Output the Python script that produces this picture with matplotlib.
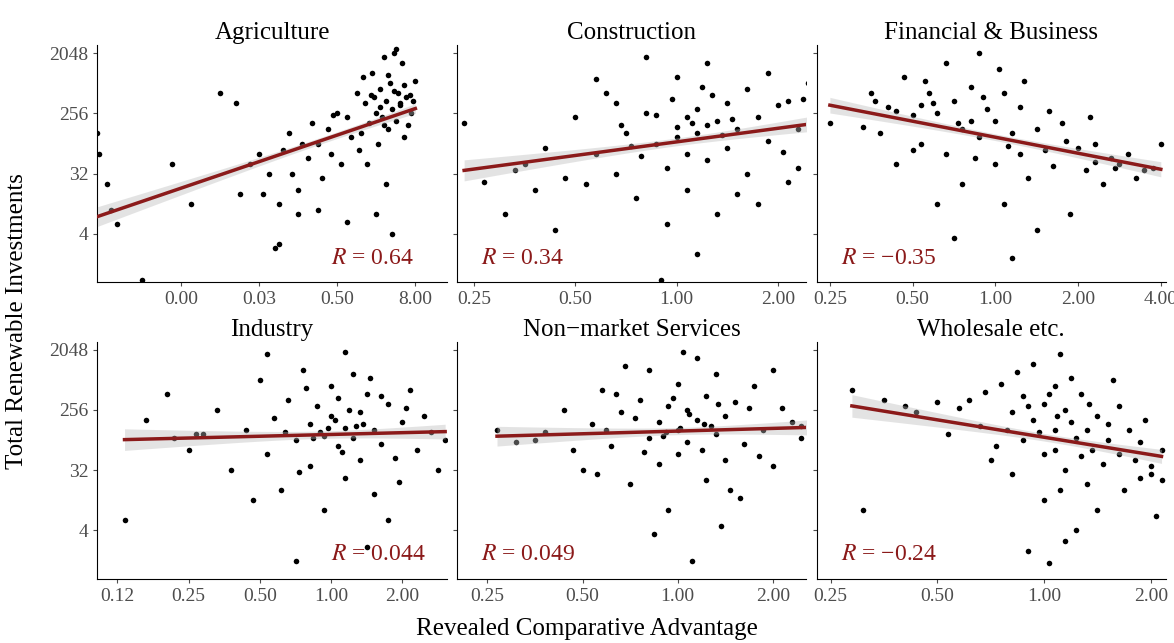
import numpy as np
import matplotlib
matplotlib.use("Agg")
import matplotlib.pyplot as plt

plt.rcParams['font.family'] = ['Liberation Serif', 'DejaVu Serif']
plt.rcParams['mathtext.fontset'] = 'stix'

sectors = ["Agriculture", "Construction", "Financial & Business",
           "Industry", "Non\u2212market Services", "Wholesale etc."]
r_labels = ["0.64", "0.34", "\u22120.35", "0.044", "0.049", "\u22120.24"]
# points as (log2 RCA, log2 investments)
agri = [(-13.3,7),(-13.2,6),(-12.8,4.5),(-12.6,3.2),(-12.3,2.5),(-11,-0.3),(-9.5,5.5),(-8.5,3.5),(-7,9),(-6.2,8.5),(-6,4),(-5.5,5.5),
        (-5,6),(-4.8,4),(-4.5,5),(-4.2,1.3),(-4,3.5),(-3.8,6.2),(-3.5,7),(-3.3,5),(-3,4.2),(-2.8,6.5),
        (-2.5,5.8),(-2.3,7.5),(-2,6.5),(-1.8,4.8),(-1.5,7.2),(-1.3,6),(-1,8),(-0.8,5.5),(-0.5,7.8),(-0.3,6.8),
        (0,9),(0.2,7),(0.4,8.5),(0.6,7.5),(0.8,10),(1,8),(1.1,6.5),(1.2,9.2),(1.3,7.8),(1.4,10.8),
        (1.5,8.6),(1.6,7.2),(1.7,9.5),(1.8,8.2),(1.9,11),(2,7.6),(2.1,9),(2.2,8.4),(2.3,10.5),(2.4,6.8),
        (2.5,8.8),(2.6,7.4),(2.8,8),(3,9.6),(0.5,5.5),(1,3),(1.5,4.5),(2,11.2),(0.3,9.8),(-0.5,2.6),
        (1.8,2),(2.2,8.5),(-3,3),(-4,1.5),(-2,3.2),(0.9,8.8),(1.6,9.9),(2.7,8.9),(-1.2,7.9),(0.1,6.2),
        (1.2,8.3),(1.9,9.1),(2.4,9.4),(0.7,8.9),(1.4,7.4),(2.9,8.6)]
cons = [(-2.1,7.5),(-1.7,3),(-1.5,5.5),(-1.3,6.3),(-1.2,2.2),(-1,7.8),(-0.9,4.5),(-0.8,6),(-0.7,9),(-0.6,5),
        (-0.5,7),(-0.4,3.8),(-0.3,8),(-0.2,6.5),(-0.1,5.3),(0,7.3),(0,9.8),(0.1,6),(0.1,4.2),(0.2,8.2),
        (0.2,7),(0.3,5.7),(0.3,10.5),(0.4,7.6),(0.4,3),(0.5,8.5),(0.5,6.3),(0.6,7.2),(0.7,9.2),(0.7,5),
        (0.8,7.8),(0.9,6.6),(1,8.4),(1.1,4.6),(1.2,7.2),(1.3,9.5),(-0.3,10.8),(-0.1,2.5),(0.2,1),(-0.6,8.5),
        (-0.2,7.9),(0,6.8),(0.15,7.5),(0.35,8.9),(-0.45,6.4),(-1.1,4.8),(0.6,4),(0.9,10),(-0.8,9.7),(1.05,6.1),
        (-0.05,8.7),(0.25,9.3),(0.45,6.9),(-0.35,5.9),(-1.4,4.2),(0.8,3.5),(1.2,5.3),(-0.15,-0.3),(0.55,7.7),(-0.55,7.4),
        (-1.9,4.6),(-1.6,5.2),(1.1,8.6),(1.25,8.7),(0.1,7.8),(0.3,7.4)]
fin = [(-2,7.5),(-1.5,9),(-1.4,7),(-1.3,8.3),(-1.2,5.5),(-1.1,9.8),(-1,7.9),(-0.9,6.5),(-0.8,9),(-0.7,8),
       (-0.6,10.5),(-0.6,6),(-0.5,8.6),(-0.4,7.2),(-0.4,4.5),(-0.3,9.3),(-0.3,7.6),(-0.2,11),(-0.2,6.8),(-0.1,8.2),
       (0,5.5),(0,7.6),(0.1,9),(0.1,3.5),(0.2,7),(0.3,6),(0.3,8.3),(0.4,4.8),(0.5,7.2),(0.6,6.2),
       (0.7,5.4),(0.8,7.5),(0.9,3),(1,6.3),(1.1,5.2),(1.2,6.5),(1.3,4.5),(1.4,5.8),(1.5,5.5),(1.7,4.8),
       (1.9,5.3),(2,6.5),(-0.7,3.5),(-0.5,1.8),(0.2,0.8),(0.5,2.2),(-1,6.2),(-0.15,8.8),(0.05,10.2),(-0.85,9.6),
       (0.35,9.6),(0.65,8.1),(-1.6,7.3),(-0.25,5.8),(0.85,6.6),(1.15,7.8),(-0.45,7.5),(0.15,6.4),(-0.75,8.5),(1.6,6),
       (-1.45,8.6),(-1.2,8.1),(-0.9,8.4),(1.2,5.6),(1.45,5.3),(1.8,5.2)]
ind = [(-2.9,2.5),(-2.6,7.5),(-2.3,8.8),(-2,6),(-1.6,8),(-1.4,5),(-1.2,7),(-1,9.5),(-0.9,5.8),(-0.8,7.6),
       (-0.7,4),(-0.6,8.5),(-0.5,6.5),(-0.4,10),(-0.3,7.3),(-0.3,5.2),(-0.2,8.2),(-0.1,6.7),(-0.1,3),(0,7.7),
       (0,9.2),(0.1,6.2),(0.1,8.6),(0.2,7.1),(0.2,4.6),(0.3,9.8),(0.3,6.6),(0.4,7.9),(0.4,5.5),(0.5,8.8),
       (0.6,7),(0.6,3.8),(0.7,6.3),(0.8,8.3),(0.9,5.6),(1,7.4),(1.1,9),(1.2,6),(1.3,7.7),(1.5,5),
       (-0.5,0.5),(0.5,1.2),(-0.9,10.8),(0.2,10.9),(-1.1,3.5),(0.8,2.5),(1.6,6.5),(-0.15,6.9),(0.05,7.5),(0.45,7.3),
       (-0.65,6.9),(0.7,8.7),(-0.35,9.1),(0.95,4.4),(-1.8,6.8),(0.15,5.9),(0.55,9.6),(-0.45,4.9),(1.05,8.1),(0.25,8),
       (-2.2,6.6),(-1.9,6.8),(1.4,6.9),(-0.05,7.1),(0.35,7.2),(-0.25,6.6)]
nonm = [(-1.9,7),(-1.5,6.5),(-1.2,8),(-1,5),(-0.9,7.3),(-0.8,9),(-0.7,6.2),(-0.6,7.9),(-0.5,4.3),(-0.4,8.5),
        (-0.3,6.6),(-0.3,10),(-0.2,7.4),(-0.2,5.3),(-0.1,8.2),(-0.1,3),(0,7),(0,9.3),(0,5.8),(0.1,8),
        (0.1,6.4),(0.2,10.6),(0.2,7.5),(0.3,4.5),(0.3,8.7),(0.4,6.8),(0.4,9.8),(0.5,7.7),(0.5,5.5),(0.6,8.4),
        (0.7,6.3),(0.8,9.2),(0.9,7),(1,5.2),(1.1,8.1),(1.3,6.6),(1.4,8.8),(-0.25,1.8),(0.15,0.5),(0.45,2.2),
        (-0.55,10.2),(0.05,10.9),(0.65,3.6),(-0.85,4.8),(0.25,6),(-0.15,6.7),(0.35,7.2),(-0.45,7.6),(0.75,8.1),(1,10),
        (-0.65,8.8),(0.55,4),(-0.05,8.6),(0.85,5.7),(-1.1,6),(1.2,7.4),(0.12,7.8),(-0.35,5.9),(0.42,8.3),(-0.75,7),
        (-1.7,6.4),(-1.4,6.9),(1.3,7.2),(0.02,7.1),(0.28,7.3),(-0.12,6.9)]
whol = [(-1.7,3),(-1.8,9),(-1.5,8.5),(-1.3,8.2),(-1.2,7.9),(-0.9,6.8),(-0.7,8.5),(-0.6,7.2),(-0.5,5.5),(-0.4,9.3),(-0.3,7.9),(-0.3,4.8),(-0.2,8.7),
        (-0.2,6.5),(-0.1,10.3),(-0.1,7.5),(0,8.3),(0,5.8),(0,3.5),(0.1,9.2),(0.1,7),(0.1,6),(0.15,10.8),
        (0.2,8),(0.2,5),(0.25,7.4),(0.3,6.6),(0.3,2),(0.35,8.8),(0.4,7),(0.4,4.3),(0.45,6),(0.5,7.7),
        (0.55,5.3),(0.6,6.5),(0.65,9.5),(0.7,5.8),(0.75,4),(0.8,7),(0.85,5.5),(0.9,6.4),(1,4.8),(1.1,6),
        (-0.15,1),(0.05,0.4),(0.2,1.5),(-0.45,6.2),(-0.25,9.9),(0.05,8.8),(0.25,9.6),(-0.05,6.9),(0.15,4),(0.35,5.7),
        (-0.55,8.9),(0.5,3),(0.7,8.2),(-0.35,7),(1.05,2.7),(0.95,7.5),(0.12,7.7),(-0.15,8.2),(0.42,8.3),(0.6,7.3),
        (1.1,4.5),(1.0,5.2),(0.9,4.6),(-1.0,8.4),(-0.8,8.1)]
data = [agri, cons, fin, ind, nonm, whol]

xlims = [(-13.3, 4.6), (-2.17, 1.28), (-2.16, 2.06), (-3.28, 1.62), (-2.32, 1.35), (-2.13, 1.14)]
xticks = [[2**-9, 2**-5, 0.5, 8], [0.25, 0.5, 1, 2], [0.25, 0.5, 1, 2, 4],
          [0.125, 0.25, 0.5, 1, 2], [0.25, 0.5, 1, 2], [0.25, 0.5, 1, 2]]
yticks = [4, 32, 256, 2048]
red = "#8B1A1A"

fig, axes = plt.subplots(2, 3, figsize=(11.74, 6.43), dpi=100)
fig.subplots_adjust(left=0.083, right=0.993, top=0.93, bottom=0.1, wspace=0.03, hspace=0.25)
for i, ax in enumerate(axes.flat):
    pts = np.array(data[i])
    lx, ly = pts[:, 0], pts[:, 1]
    ax.scatter(2**lx, 2**ly, s=16, color="black", zorder=3, linewidths=0)
    n = len(lx)
    b, a = np.polyfit(lx, ly, 1)
    xs = np.linspace(lx.min(), lx.max(), 100)
    yh = a + b * xs
    res = ly - (a + b * lx)
    s = np.sqrt(np.sum(res**2) / (n - 2))
    se = s * np.sqrt(1/n + (xs - lx.mean())**2 / np.sum((lx - lx.mean())**2))
    ax.fill_between(2**xs, 2**(yh - 0.7*se), 2**(yh + 0.7*se), color="#bbbbbb", alpha=0.4, zorder=4, lw=0)
    ax.plot(2**xs, 2**yh, color=red, lw=2.5, zorder=5)
    ax.set_xscale("log", base=2)
    ax.set_yscale("log", base=2)
    ax.set_xlim(2**xlims[i][0], 2**xlims[i][1])
    ax.set_ylim(2**-0.4, 2**11.4)
    ax.set_xticks(xticks[i])
    ax.set_xticklabels([f"{t:.2f}" for t in xticks[i]])
    ax.minorticks_off()
    ax.set_yticks(yticks)
    if i % 3 == 0:
        ax.set_yticklabels([str(t) for t in yticks])
    else:
        ax.set_yticklabels([])
    ax.tick_params(labelsize=14, colors="#4d4d4d", length=3)
    for sp in ["top", "right"]:
        ax.spines[sp].set_visible(False)
    ax.set_title(sectors[i], fontsize=18, pad=4)
    ax.text(0.07 if i % 3 else 0.67, 0.1, f"$R$ = {r_labels[i]}", transform=ax.transAxes,
            color=red, fontsize=17, va="center")
fig.supxlabel("Revealed Comparative Advantage", fontsize=18, y=0.005)
fig.supylabel("Total Renewable Investments", fontsize=18, x=0.005)
fig.savefig("out.png", dpi=100)
